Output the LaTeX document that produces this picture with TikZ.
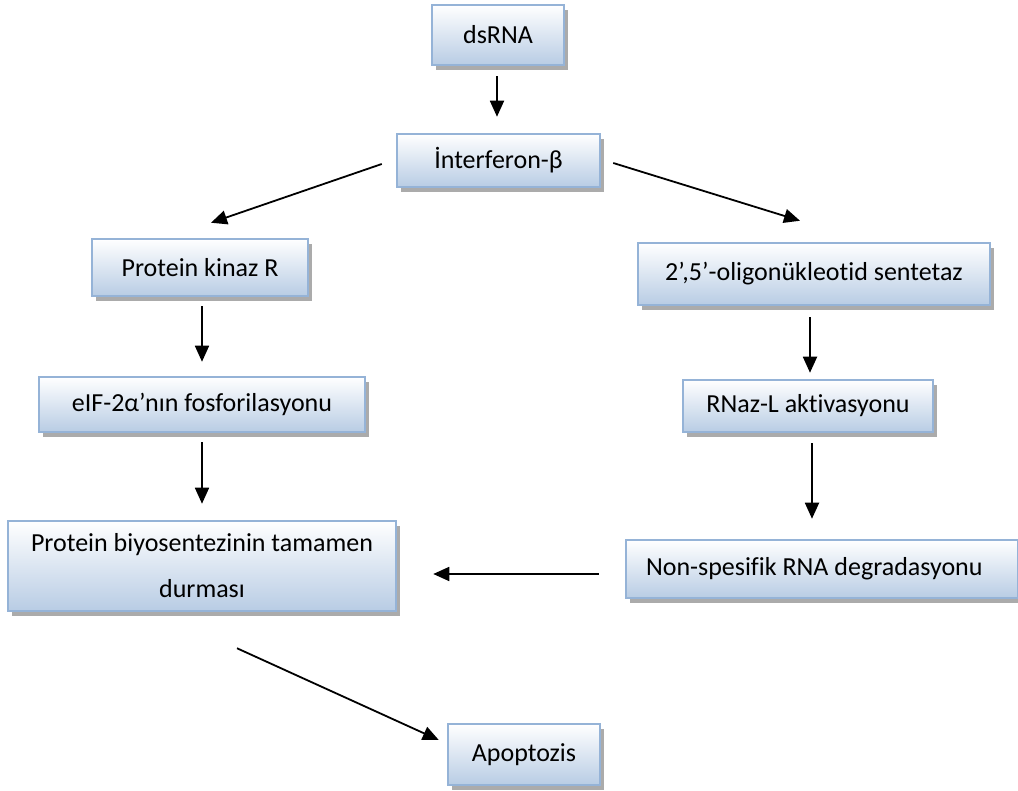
\documentclass[tikz,border=0pt]{standalone}
\usepackage{fontspec}
\setmainfont{Carlito}[Ligatures={NoCommon}]
\usetikzlibrary{arrows.meta,shadows,calc}
\definecolor{boxborder}{RGB}{149,179,215}
\definecolor{boxbottom}{RGB}{184,204,228}
\definecolor{shadowgray}{RGB}{150,150,150}
\tikzset{
  fbox/.style={draw=boxborder, line width=2.5pt, top color=white, bottom color=boxbottom,
    inner sep=0pt, align=center, font=\fontsize{26}{46}\selectfont,
    drop shadow={shadow xshift=4pt, shadow yshift=-5pt, fill=shadowgray, opacity=0.8}},
  arr/.style={line width=1.8pt, -{Triangle[length=16pt,width=14pt]}}
}
\begin{document}
\begin{tikzpicture}[x=1pt,y=-1pt]
\useasboundingbox (0,0) rectangle (1018,791);
\node[fbox, minimum width=132pt, minimum height=60pt] (ds) at (498,35) {dsRNA};
\node[fbox, minimum width=203pt, minimum height=53pt] (ifn) at (498.5,160.5) {İnterferon-β};
\node[fbox, minimum width=216pt, minimum height=57pt] (pkr) at (200,267.5) {Protein kinaz R};
\node[fbox, minimum width=352pt, minimum height=62pt] (oas) at (814,274) {2’,5’-oligonükleotid sentetaz};
\node[fbox, minimum width=326pt, minimum height=55pt] (eif) at (202,404.5) {eIF-2α’nın fosforilasyonu};
\node[fbox, minimum width=250pt, minimum height=52pt] (rnl) at (808,406) {RNaz-L aktivasyonu};
\node[fbox, minimum width=388pt, minimum height=90pt] (pbio) at (202,566) {Protein biyosentezinin tamamen\\durması};
\node[fbox, minimum height=58pt, inner xsep=20pt, text width=352pt, align=flush left] (nsr) at (822,569) {Non-spesifik RNA degradasyonu};
\node[fbox, minimum width=152pt, minimum height=61pt] (apo) at (524,754.5) {Apoptozis};

\draw[arr] ($(ds.south)+(-1,10)$) -- ($(ifn.north)+(-1.5,-16)$);
\draw[arr] ($(ifn.west)+(-14,3.5)$) -- ($(pkr.north)+(11,-15)$);
\draw[arr] ($(ifn.east)+(12,2.5)$) -- ($(oas.north)+(-14,-21)$);
\draw[arr] ($(pkr.south)+(2,9)$) -- ($(eif.north)+(0,-14)$);
\draw[arr] ($(eif.south)+(0,9)$) -- ($(pbio.north)+(0,-16)$);
\draw[arr] ($(oas.south)+(-4,11)$) -- ($(rnl.north)+(2,-6)$);
\draw[arr] ($(rnl.south)+(4,10)$) -- ($(nsr.north)+(-10,-20)$);
\draw[arr] ($(nsr.west)+(-26,5)$) -- ($(pbio.east)+(36,8)$);
\draw[arr] ($(pbio.south)+(35,36)$) -- ($(apo.west)+(-8,-14.5)$);
\end{tikzpicture}
\end{document}
